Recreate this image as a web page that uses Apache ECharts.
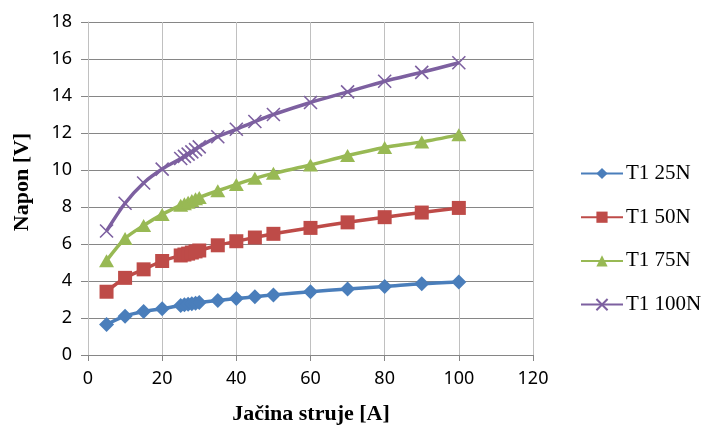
<!DOCTYPE html>
<html>
<head>
<meta charset="utf-8">
<script src="https://cdn.jsdelivr.net/npm/echarts@6/dist/echarts.min.js"></script>
<style>
html,body{margin:0;padding:0;background:#fff;}
#chart{width:708px;height:426px;}
</style>
</head>
<body>
<div id="chart"></div>
<script>
// Data
const current = [5, 10, 15, 20, 25, 26, 27, 28, 29, 30, 35, 40, 45, 50, 60, 70, 80, 90, 100];
const t1_25N  = [1.65, 2.1, 2.35, 2.5, 2.68, 2.71, 2.74, 2.77, 2.8, 2.84, 2.95, 3.05, 3.15, 3.25, 3.42, 3.57, 3.7, 3.85, 3.95];
const t1_50N  = [3.42, 4.17, 4.63, 5.08, 5.38, 5.43, 5.48, 5.54, 5.6, 5.65, 5.93, 6.15, 6.35, 6.55, 6.87, 7.17, 7.45, 7.7, 7.95];
const t1_75N  = [5.1, 6.3, 7.0, 7.6, 8.1, 8.18, 8.26, 8.35, 8.44, 8.52, 8.88, 9.22, 9.55, 9.82, 10.27, 10.78, 11.22, 11.52, 11.9];
const t1_100N = [6.7, 8.2, 9.3, 10.05, 10.62, 10.74, 10.86, 10.98, 11.1, 11.25, 11.8, 12.2, 12.62, 13.0, 13.65, 14.22, 14.8, 15.28, 15.8];
const seriesNames = ['T1 25N', 'T1 50N', 'T1 75N', 'T1 100N'];
const xTicks = [0, 20, 40, 60, 80, 100, 120];
const yTicks = [0, 2, 4, 6, 8, 10, 12, 14, 16, 18];

const colors = ['#4a7ebb', '#be4b48', '#98b954', '#7d60a0'];
const symbols = ['diamond', 'rect', 'triangle', 'path://M0,0L10,10M10,0L0,10'];
const sizes = [15, 14, 15, 13];
const values = [t1_25N, t1_50N, t1_75N, t1_100N];

const chart = echarts.init(document.getElementById('chart'), null, {renderer: 'canvas'});
const tickFont = {fontFamily: 'Noto Sans', fontSize: 18, color: '#000'};

chart.setOption({
  animation: false,
  backgroundColor: '#fff',
  grid: {left: 88, right: 175, top: 22, bottom: 71, containLabel: false},
  xAxis: {
    type: 'value', min: xTicks[0], max: xTicks[xTicks.length - 1], interval: 20,
    axisLine: {show: true, onZero: false, lineStyle: {color: '#868686', width: 1}},
    axisTick: {show: true, length: 6, lineStyle: {color: '#868686'}},
    axisLabel: Object.assign({margin: 15}, tickFont),
    splitLine: {show: true, lineStyle: {color: '#c0c0c0', width: 1}}
  },
  yAxis: {
    type: 'value', min: yTicks[0], max: yTicks[yTicks.length - 1], interval: 2,
    axisLine: {show: true, lineStyle: {color: '#c0c0c0', width: 1}},
    axisTick: {show: true, length: 7, lineStyle: {color: '#868686'}},
    axisLabel: Object.assign({margin: 16}, tickFont),
    splitLine: {show: true, lineStyle: {color: '#868686', width: 1}}
  },
  legend: {
    orient: 'vertical', left: 580, top: 163, padding: 0,
    itemWidth: 42, itemHeight: 14, itemGap: 22.7,
    textStyle: {fontFamily: 'Liberation Serif', fontSize: 21, color: '#000', padding: [0, 0, 0, -2]},
    data: seriesNames
  },
  graphic: [
    {type: 'text', x: 22, y: 182, rotation: Math.PI / 2,
     style: {text: 'Napon [V]', fontFamily: 'Liberation Serif', fontWeight: 'bold', fontSize: 22, fill: '#000', align: 'center', verticalAlign: 'middle'}},
    {type: 'text', x: 311, y: 414,
     style: {text: 'Jačina struje [A]', fontFamily: 'Liberation Serif', fontWeight: 'bold', fontSize: 22, fill: '#000', align: 'center', verticalAlign: 'middle'}}
  ],
  series: seriesNames.map((name, i) => ({
    name: name,
    type: 'line',
    data: current.map((x, j) => [x, values[i][j]]),
    smooth: 0.3,
    symbol: symbols[i],
    symbolSize: i === 2 ? [15, 13] : sizes[i],
    showAllSymbol: true,
    lineStyle: {color: colors[i], width: 3.5},
    itemStyle: i === 3
      ? {color: colors[i], borderColor: colors[i], borderWidth: 1.6}
      : {color: colors[i], borderWidth: 0},
    z: 2 + i
  }))
});
</script>
</body>
</html>
